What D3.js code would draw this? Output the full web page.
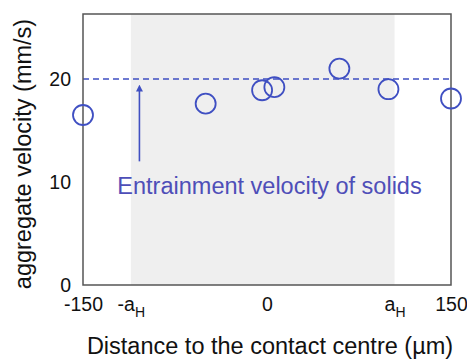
<!DOCTYPE html>
<html>
<head>
<meta charset="utf-8">
<script src="https://cdn.jsdelivr.net/npm/d3@7"></script>
<style>
  html, body { margin: 0; padding: 0; background: #fff; }
  svg { display: block; font-family: "Liberation Sans", Arial, sans-serif; }
</style>
</head>
<body>
<svg id="chart" width="467" height="360"></svg>
<script>
// Aggregate velocity measured across the contact
const positions = [-150, -50, -4, 6, 59, 99, 150];          // µm
const velocities = [16.5, 17.6, 18.9, 19.2, 21.0, 19.0, 18.1]; // mm/s

// Entrainment velocity of solids and the Hertzian contact half-width
const entrainmentVelocity = 20;
const contactStart = -111;
const contactEnd = 104;

// Arrow pointing at the entrainment line
const arrowX = -104;
const arrowFrom = 12.0;
const arrowTo = 19.4;

const yTicks = [0, 10, 20];
const xTickValues = [-150, contactStart, 0, contactEnd, 150];
const xTickLabels = ["-150", "-a_H", "0", "a_H", "150"];

const blue = "#3f4fc2";
const textBlue = "#4e4eb8";

const margin = { left: 83, right: 16, top: 14, bottom: 75 };
const width = 467, height = 360;

const svg = d3.select("#chart");

const x = d3.scaleLinear().domain([-150, 150]).range([margin.left, width - margin.right]);
const y = d3.scaleLinear().domain([0, 26.3]).range([height - margin.bottom, margin.top]);

// shaded contact zone
svg.append("rect")
  .attr("x", x(contactStart))
  .attr("y", y(26.3))
  .attr("width", x(contactEnd) - x(contactStart))
  .attr("height", y(0) - y(26.3))
  .attr("fill", "#efefef");

// entrainment velocity reference line
svg.append("line")
  .attr("x1", x(-150)).attr("x2", x(150))
  .attr("y1", y(entrainmentVelocity)).attr("y2", y(entrainmentVelocity))
  .attr("stroke", blue)
  .attr("stroke-width", 1.5)
  .attr("stroke-dasharray", "6,4");

// arrow
svg.append("defs").append("marker")
  .attr("id", "head")
  .attr("viewBox", "0 0 10 10")
  .attr("refX", 5).attr("refY", 5)
  .attr("markerWidth", 7).attr("markerHeight", 7)
  .attr("orient", "auto")
  .attr("markerUnits", "userSpaceOnUse")
  .append("path")
  .attr("d", "M0,0 L10,5 L0,10 Z")
  .attr("fill", blue);

svg.append("line")
  .attr("x1", x(arrowX)).attr("x2", x(arrowX))
  .attr("y1", y(arrowFrom)).attr("y2", y(arrowTo) + 3)
  .attr("stroke", blue)
  .attr("stroke-width", 1.6)
  .attr("marker-end", "url(#head)");

// annotation
svg.append("text")
  .attr("x", x(-122))
  .attr("y", y(8.8))
  .attr("font-size", 23.5)
  .attr("fill", textBlue)
  .text("Entrainment velocity of solids");

// frame
svg.append("rect")
  .attr("x", x(-150)).attr("y", y(26.3))
  .attr("width", x(150) - x(-150))
  .attr("height", y(0) - y(26.3))
  .attr("fill", "none")
  .attr("stroke", "#555")
  .attr("stroke-width", 1.5);

// y axis tick labels
const yAxis = d3.axisLeft(y).tickValues(yTicks).tickSize(0).tickPadding(12).tickFormat(d3.format("d"));
const gy = svg.append("g").attr("transform", `translate(${margin.left},0)`).call(yAxis);
gy.select(".domain").remove();
gy.selectAll("text").attr("font-size", 19.5).attr("fill", "#111").attr("font-family", "Liberation Sans, Arial, sans-serif");

// x axis tick labels (with subscript H)
const xAxis = d3.axisBottom(x).tickValues(xTickValues).tickSize(0).tickPadding(12).tickFormat(() => "");
const gx = svg.append("g").attr("transform", `translate(0,${height - margin.bottom})`).call(xAxis);
gx.select(".domain").remove();
gx.selectAll(".tick text")
  .attr("font-size", 19.5)
  .attr("fill", "#111")
  .attr("font-family", "Liberation Sans, Arial, sans-serif")
  .each(function(d, i) {
    const parts = xTickLabels[i].split("_");
    const t = d3.select(this);
    t.append("tspan").text(parts[0]);
    if (parts[1]) {
      t.append("tspan").attr("dy", 6).attr("font-size", 14).text(parts[1]);
    }
  });

// data points
svg.append("g")
  .selectAll("circle")
  .data(positions.map((p, i) => ({ p, v: velocities[i] })))
  .join("circle")
  .attr("cx", d => x(d.p))
  .attr("cy", d => y(d.v))
  .attr("r", 10)
  .attr("fill", "none")
  .attr("stroke", blue)
  .attr("stroke-width", 1.8);

// axis titles
svg.append("text")
  .attr("transform", `translate(31,154) rotate(-90)`)
  .attr("text-anchor", "middle")
  .attr("font-size", 23.5)
  .attr("fill", "#111")
  .text("aggregate velocity (mm/s)");

svg.append("text")
  .attr("x", 270)
  .attr("y", 354)
  .attr("text-anchor", "middle")
  .attr("font-size", 23.5)
  .attr("fill", "#111")
  .text("Distance to the contact centre (µm)");
</script>
</body>
</html>
